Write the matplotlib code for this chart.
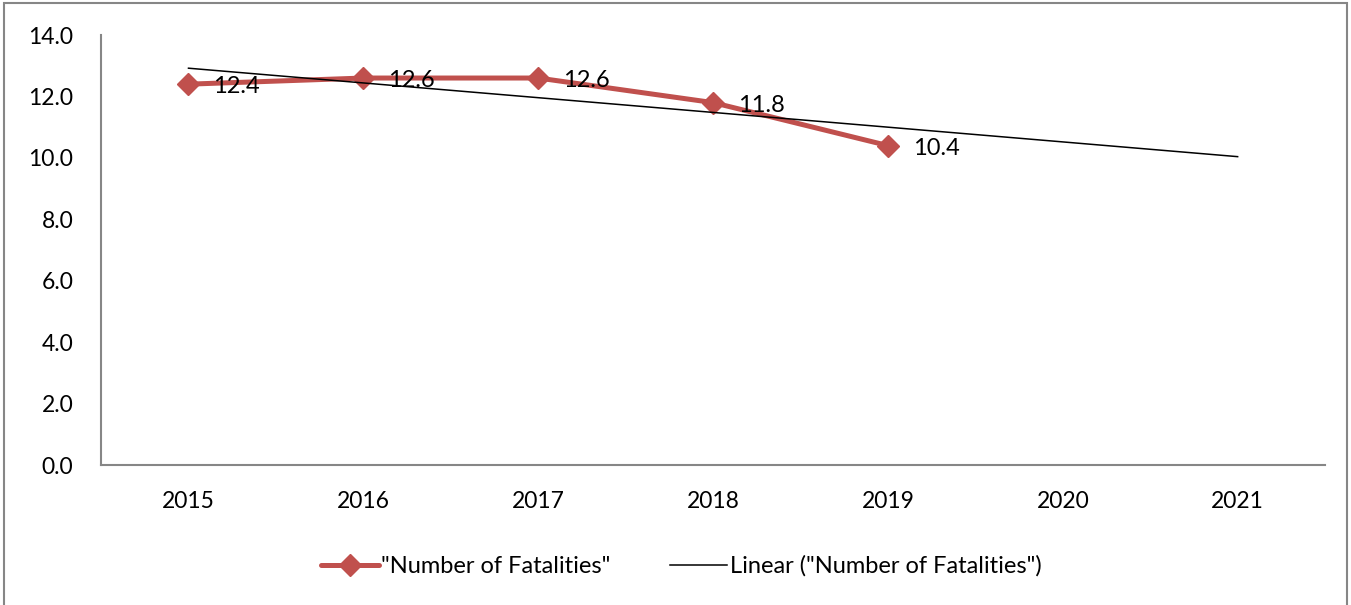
import numpy as np
import matplotlib.pyplot as plt
from matplotlib.patches import Rectangle

# data
years = ["2015", "2016", "2017", "2018", "2019", "2020", "2021"]
fatalities = [12.4, 12.6, 12.6, 11.8, 10.4]
yticks = [0, 2, 4, 6, 8, 10, 12, 14]

plt.rcParams['font.family'] = ['Lato', 'DejaVu Sans']

fig = plt.figure(figsize=(13.51, 6.05), dpi=100)
ax = fig.add_axes([0.0748, 0.2314, 0.906, 0.7107])

x = np.arange(len(fatalities))
ax.plot(x, fatalities, color='#C0504D', lw=3.6, marker='D', markersize=11,
        label='"Number of Fatalities"', solid_capstyle='round')

# linear trend over all categories
k, b = np.polyfit(x + 1, fatalities, 1)
xt = np.arange(len(years))
ax.plot(xt, k * (xt + 1) + b, color='black', lw=1.1,
        label='Linear ("Number of Fatalities")')

for xi, v in zip(x, fatalities):
    ax.annotate(f"{v:.1f}", (xi, v), xytext=(18, -2), textcoords='offset points',
                ha='left', va='center', fontsize=17)

ax.set_xlim(-0.5, len(years) - 0.5)
ax.set_ylim(0, 14)
ax.set_xticks(xt)
ax.set_xticklabels(years)
ax.set_yticks(yticks)
ax.set_yticklabels([f"{t:.1f}" for t in yticks])
ax.tick_params(length=0, labelsize=16.5)
ax.tick_params(axis='y', pad=20)
ax.tick_params(axis='x', pad=19)

for s in ['top', 'right']:
    ax.spines[s].set_visible(False)
for s in ['left', 'bottom']:
    ax.spines[s].set_color('#868686')
    ax.spines[s].set_linewidth(1.5)

ax.legend(loc='center', bbox_to_anchor=(0.474, -0.235), ncol=2, frameon=False,
          fontsize=17, handlelength=2.45, columnspacing=2.5, handletextpad=0.1)

fig.patches.append(Rectangle((0.003, -0.01), 0.994, 1.005, transform=fig.transFigure,
                             fill=False, edgecolor='#868686', lw=1.5))

fig.savefig('out.png', dpi=100)
